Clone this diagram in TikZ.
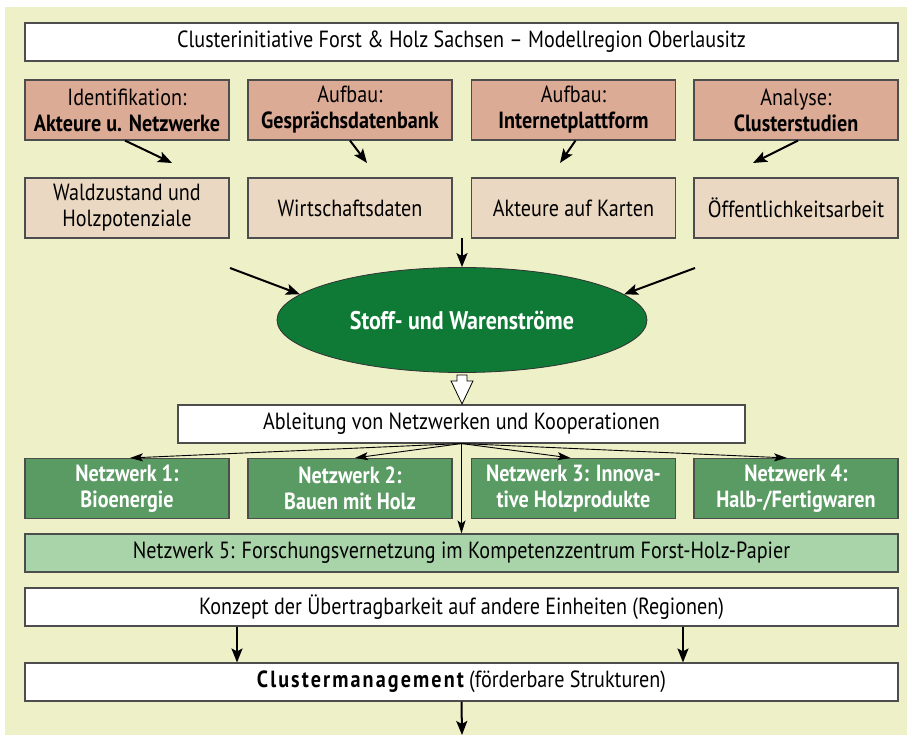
\documentclass[tikz,border=0pt]{standalone}
\usepackage{fontspec}
\setmainfont{PT Sans}[FakeStretch=0.86]
\usetikzlibrary{arrows.meta,shapes.geometric,calc}
\definecolor{bg}{HTML}{EEF0C8}
\definecolor{salmon}{HTML}{DCAB96}
\definecolor{beige}{HTML}{EBD8C2}
\definecolor{dgreen}{HTML}{0E7A36}
\definecolor{mgreen}{HTML}{5A9B64}
\definecolor{lgreen}{HTML}{A9D3A9}
\definecolor{frame}{HTML}{4D4D4D}
\begin{document}
\begin{tikzpicture}[x=1pt,y=-1pt,
  box/.style={draw=frame,line width=1.1pt,align=center,inner sep=0pt,font=\fontsize{23.4}{26}\selectfont},
  wide/.style={box,fill=white,minimum width=873pt,minimum height=38pt},
  headbox/.style={box,fill=salmon,minimum width=204pt,minimum height=60pt},
  subbox/.style={box,fill=beige,minimum width=204pt,minimum height=60pt},
  netbox/.style={box,fill=mgreen,text=white,minimum width=204pt,minimum height=60pt,font=\fontsize{23.4}{26}\selectfont\bfseries},
  arr/.style={-{Stealth[length=14pt,width=11pt,inset=3pt]},line width=2pt},
  thinarr/.style={-{Stealth[length=13pt,width=8pt,inset=3pt]},line width=0.9pt}]
\useasboundingbox (0,0) rectangle (907,735);
\fill[bg] (5,7) rectangle (907,735);

\node[wide] (top) at (461.5,42) {Clusterinitiative Forst \& Holz Sachsen -- Modellregion Oberlausitz};

\node[headbox] (h1) at (127,110) {Identifikation:\\\textbf{Akteure u. Netzwerke}};
\node[headbox] (h2) at (350,110) {Aufbau:\\\textbf{Gesprächsdatenbank}};
\node[headbox] (h3) at (573.5,110) {Aufbau:\\\textbf{Internetplattform}};
\node[headbox] (h4) at (796,110) {Analyse:\\\textbf{Clusterstudien}};

\node[subbox] (s1) at (127,208) {Waldzustand und\\Holzpotenziale};
\node[subbox] (s2) at (350,208) {Wirtschaftsdaten};
\node[subbox] (s3) at (573.5,208) {Akteure auf Karten};
\node[subbox] (s4) at (796,208) {Öffentlichkeitsarbeit};

\coordinate (e1) at (172,163);
\coordinate (e2) at (367,163);
\coordinate (e3) at (560,163);
\coordinate (e4) at (753,163);
\draw[arr] ([xshift=-2pt]h1.south) -- (e1);
\draw[arr] (h2.south) -- (e2);
\draw[arr] ([xshift=2pt]h3.south) -- (e3);
\draw[arr] ([xshift=2pt]h4.south) -- (e4);

\node[ellipse,fill=dgreen,draw=black!80,line width=0.8pt,minimum width=370pt,minimum height=105pt,text=white,
  font=\fontsize{25.5}{28}\selectfont\bfseries] (ell) at (462,320) {Stoff- und Warenströme};

\coordinate (c0) at (462,238);
\coordinate (cl) at (230,268);
\coordinate (cr) at (695,268);
\draw[arr] (c0) -- (ell.north);
\draw[arr] (cl) -- (ell.171);
\draw[arr] (cr) -- (ell.9);

\node[box,fill=white,minimum width=567pt,minimum height=38pt] (abl) at (461.5,424) {Ableitung von Netzwerken und Kooperationen};

\draw[fill=white,line width=0.8pt,shift={(ell.south)}]
  (-5,2) -- (5,2) -- (5,8) -- (11,8) -- (0,31) -- (-11,8) -- (-5,8) -- cycle;

\node[netbox] (n1) at (127,488.5) {Netzwerk 1:\\Bioenergie};
\node[netbox] (n2) at (350,488.5) {Netzwerk 2:\\Bauen mit Holz};
\node[netbox] (n3) at (573.5,488.5) {Netzwerk 3: Innova-\\tive Holzprodukte};
\node[netbox] (n4) at (796,488.5) {Netzwerk 4:\\Halb-/Fertigwaren};

\node[box,fill=lgreen,minimum width=873pt,minimum height=38pt] (n5) at (461.5,553) {Netzwerk 5: Forschungsvernetzung im Kompetenzzentrum Forst-Holz-Papier};

\draw[thinarr] (abl.south) -- ([xshift=3pt]n1.north);
\draw[thinarr] (abl.south) -- ([xshift=5pt]n2.north);
\draw[thinarr] (abl.south) -- ([xshift=-3pt]n3.north);
\draw[thinarr] (abl.south) -- ([xshift=-9pt]n4.north);
\draw[thinarr] (abl.south) -- (n5.north);

\node[wide] (k) at (461.5,607) {Konzept der Übertragbarkeit auf andere Einheiten (Regionen)};
\node[wide] (cm) at (461.5,682) {{\bfseries\addfontfeature{LetterSpace=9}Clustermanagement} (förderbare Strukturen)};

\draw[arr] ([xshift=-224.5pt]k.south) -- ([xshift=-224.5pt]cm.north);
\draw[arr] ([xshift=221.5pt]k.south) -- ([xshift=221.5pt]cm.north);
\coordinate (bot) at (462,735);
\draw[arr] (cm.south) -- (bot);
\end{tikzpicture}
\end{document}
